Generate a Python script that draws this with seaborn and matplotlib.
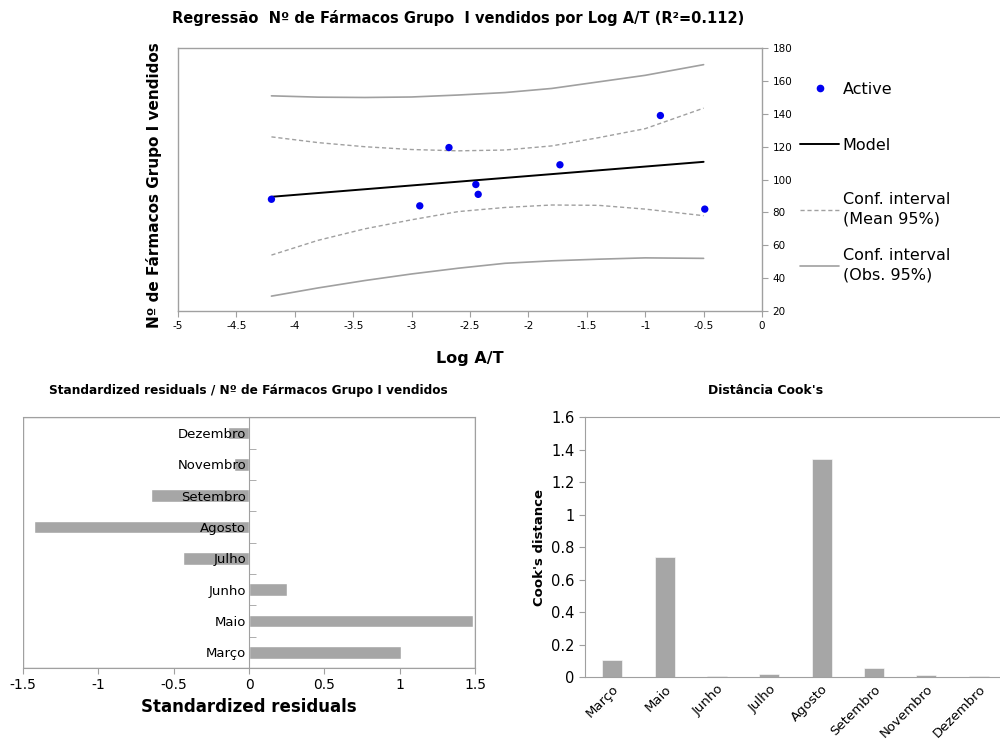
import matplotlib
matplotlib.use("Agg")
import matplotlib.pyplot as plt
from matplotlib.ticker import FuncFormatter, MultipleLocator, FixedLocator
from matplotlib.lines import Line2D
from matplotlib.patches import Rectangle
import seaborn as sns
import pandas as pd

# ---------------- data ----------------
log_at = [-4.20, -2.93, -2.68, -2.45, -2.43, -1.73, -0.87, -0.49]
farmacos = [88, 84, 119.5, 97, 91, 109, 139, 82]

model_x = [-4.2, -0.5]
model_y = [89.5, 110.8]

ci_x = [-4.2, -3.8, -3.4, -3.0, -2.6, -2.2, -1.8, -1.4, -1.0, -0.5]
mean_upper = [126, 122.5, 120, 118.3, 117.5, 118, 120.5, 125.5, 131, 143.5]
mean_lower = [54, 63, 70, 75.5, 80.5, 83, 84.5, 84.3, 82, 78]
obs_upper = [151, 150.2, 150, 150.3, 151.5, 153, 155.5, 159.5, 163.5, 170]
obs_lower = [29, 34, 38.5, 42.5, 46, 49, 50.5, 51.5, 52.3, 52]

months = ["Março", "Maio", "Junho", "Julho", "Agosto", "Setembro", "Novembro", "Dezembro"]
std_resid = [1.01, 1.49, 0.25, -0.44, -1.43, -0.65, -0.10, -0.14]
cooks = [0.105, 0.74, 0.005, 0.02, 1.345, 0.058, 0.015, 0.005]

# ---------------- style ----------------
sns.set_style("white")
plt.rcParams["font.family"] = ["DejaVu Sans"]
plt.rcParams["text.color"] = "black"
plt.rcParams["axes.labelcolor"] = "black"
plt.rcParams["xtick.color"] = "black"
plt.rcParams["ytick.color"] = "black"
GRAY = "#A6A6A6"
SPINE = "#A0A0A0"
fmt = FuncFormatter(lambda v, p: f"{v:g}")

fig = plt.figure(figsize=(10, 7.42), dpi=100)

# ---------------- top: regression ----------------
ax = fig.add_axes([0.178, 0.581, 0.584, 0.354])
sns.lineplot(x=ci_x, y=obs_upper, color="#A0A0A0", lw=1.2, ax=ax)
sns.lineplot(x=ci_x, y=obs_lower, color="#A0A0A0", lw=1.2, ax=ax)
sns.lineplot(x=ci_x, y=mean_upper, color="#A0A0A0", lw=1.0, ls=(0, (3, 2)), ax=ax)
sns.lineplot(x=ci_x, y=mean_lower, color="#A0A0A0", lw=1.0, ls=(0, (3, 2)), ax=ax)
sns.lineplot(x=model_x, y=model_y, color="black", lw=1.4, ax=ax)
sns.scatterplot(x=log_at, y=farmacos, color="#0000F0", s=28, edgecolor="none", zorder=5, ax=ax)
ax.set_xlim(-5, 0)
ax.set_ylim(20, 180)
ax.xaxis.set_major_locator(MultipleLocator(0.5))
ax.yaxis.set_major_locator(MultipleLocator(20))
ax.xaxis.set_major_formatter(fmt)
ax.yaxis.tick_right()
ax.yaxis.set_label_position("left")
for s in ax.spines.values():
    s.set_color(SPINE)
    s.set_linewidth(1.0)
ax.tick_params(axis="both", which="major", labelsize=7.5, length=4, color=SPINE, direction="out",
               bottom=True, right=True, left=False)
ax.set_xlabel("Log A/T", fontsize=11.5, fontweight="bold", labelpad=14)
ax.set_ylabel("Nº de Fármacos Grupo I vendidos", fontsize=11, fontweight="bold")
ax.yaxis.set_label_coords(-0.027, 0.48)
fig.text(0.458, 0.976, "Regressão  Nº de Fármacos Grupo  I vendidos por Log A/T (R²=0.112)",
         ha="center", va="center", fontsize=10.5, fontweight="bold")

handles_a = [
    Line2D([], [], ls="none", marker="o", color="#0000F0", markersize=4.5),
    Line2D([], [], color="black", lw=1.4),
]
handles_b = [
    Line2D([], [], color="#A0A0A0", lw=1.0, ls=(0, (3, 2))),
    Line2D([], [], color="#A0A0A0", lw=1.2),
]
leg_a = fig.legend(handles_a, ["Active", "Model"], loc="upper left", bbox_to_anchor=(0.786, 0.909),
                   frameon=False, fontsize=11.5, labelspacing=2.55, handlelength=2.4, handletextpad=0.25)
leg_b = fig.legend(handles_b, ["Conf. interval\n(Mean 95%)", "Conf. interval\n(Obs. 95%)"],
                   loc="upper left", bbox_to_anchor=(0.786, 0.760), frameon=False, fontsize=11.5,
                   labelspacing=1.35, handlelength=2.4, handletextpad=0.25)
for t in leg_b.get_texts():
    t.set_linespacing(1.35)

# ---------------- bottom left: standardized residuals ----------------
ax2 = fig.add_axes([0.023, 0.0997, 0.452, 0.338])
df_r = pd.DataFrame({"month": months, "resid": std_resid})
sns.barplot(data=df_r, x="resid", y="month", order=months[::-1], orient="h",
            color=GRAY, saturation=1, width=0.4, ax=ax2)
ax2.set_axisbelow(False)
ax2.set_xlim(-1.5, 1.5)
ax2.set_ylim(7.5, -0.5)
ax2.xaxis.set_major_locator(MultipleLocator(0.5))
ax2.xaxis.set_major_formatter(fmt)
ax2.spines["left"].set_position(("data", 0))
for s in ax2.spines.values():
    s.set_color(SPINE)
ax2.add_patch(Rectangle((0, 0), 1, 1, transform=ax2.transAxes, fill=False, ec=SPINE, lw=1.0, zorder=0))
ax2.yaxis.set_minor_locator(FixedLocator([0.5 + i for i in range(7)]))
ax2.tick_params(axis="y", which="major", length=0, labelsize=9.5, pad=2)
ax2.tick_params(axis="y", which="minor", length=5, direction="in", color=SPINE, left=True)
ax2.tick_params(axis="x", which="major", length=4, color=SPINE, labelsize=10, bottom=True)
ax2.set_ylabel("")
ax2.set_xlabel("Standardized residuals", fontsize=12, fontweight="bold", labelpad=4)
fig.text(0.248, 0.474, "Standardized residuals / Nº de Fármacos Grupo I vendidos",
         ha="center", va="center", fontsize=8.7, fontweight="bold")

# ---------------- bottom right: Cook's distance ----------------
ax3 = fig.add_axes([0.585, 0.0876, 0.425, 0.350])
df_c = pd.DataFrame({"month": months, "cook": cooks})
sns.barplot(data=df_c, x="month", y="cook", order=months, color=GRAY, saturation=1,
            width=0.38, edgecolor="white", linewidth=0.4, ax=ax3)
ax3.set_xlim(-0.52, 7.6)
ax3.set_ylim(0, 1.6)
ax3.yaxis.set_major_locator(MultipleLocator(0.2))
ax3.yaxis.set_major_formatter(fmt)
for s in ax3.spines.values():
    s.set_color(SPINE)
ax3.tick_params(axis="y", length=4, color=SPINE, labelsize=10.5, left=True)
ax3.tick_params(axis="x", length=0, labelsize=9.5, pad=4)
for lab in ax3.get_xticklabels():
    lab.set_rotation(45)
    lab.set_ha("right")
    lab.set_rotation_mode("anchor")
ax3.set_xlabel("")
ax3.set_ylabel("Cook's distance", fontsize=9.5, fontweight="bold")
fig.text(0.766, 0.474, "Distância Cook's", ha="center", va="center", fontsize=9, fontweight="bold")

fig.savefig("out.png", dpi=100)
